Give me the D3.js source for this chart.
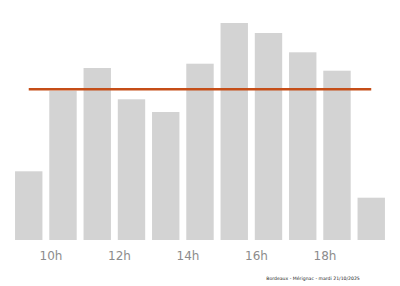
<!DOCTYPE html>
<html>
<head>
<meta charset="utf-8">
<script src="https://cdn.jsdelivr.net/npm/d3@7"></script>
<style>
  body { margin: 0; background: white; }
  svg { display: block; }
</style>
</head>
<body>
<svg id="chart"></svg>
<script>
var hours = [9, 10, 11, 12, 13, 14, 15, 16, 17, 18, 19];
var values = [68.7, 149.3, 172, 140.7, 128, 176.3, 217, 207, 187.7, 169.3, 42.3];
var tickHours = [10, 12, 14, 16, 18];
var caption = "Bordeaux - Mérignac - mardi 21/10/2025";

var width = 400, height = 286;

var svg = d3.select("#chart").attr("width", width).attr("height", height)
            .style("background", "white");

var x = d3.scaleLinear().domain([9, 20]).range([16.75, 393.5]);
var y = d3.scaleLinear().domain([0, 240]).range([240, 0]);

svg.selectAll("rect.bar")
  .data(hours)
  .enter().append("rect")
    .attr("class", "bar")
    .attr("x", d => x(d - 0.05))
    .attr("width", x(9.75) - x(8.95))
    .attr("y", (d, i) => y(values[i]))
    .attr("height", (d, i) => y(0) - y(values[i]))
    .style("fill", "#d3d3d3");

// mean line from first to last bar centre
var avg = d3.mean(values);
svg.append("line")
  .attr("x1", x(hours[0] + 0.35))
  .attr("x2", x(hours[hours.length - 1] + 0.35))
  .attr("y1", y(avg))
  .attr("y2", y(avg))
  .style("stroke", "#c54e18")
  .style("stroke-width", 2.5);

svg.selectAll("text.tick")
  .data(tickHours)
  .enter().append("text")
    .attr("class", "tick")
    .attr("x", d => x(d))
    .attr("y", 260)
    .attr("text-anchor", "middle")
    .style("font-family", "DejaVu Sans, sans-serif")
    .style("font-size", "12px")
    .style("fill", "#8c8c8c")
    .text(d => d + "h");

svg.append("text")
  .attr("x", 313)
  .attr("y", 280)
  .attr("text-anchor", "middle")
  .style("font-family", "DejaVu Sans, sans-serif")
  .style("font-size", "4.6px")
  .style("fill", "#222")
  .text(caption);
</script>
</body>
</html>
